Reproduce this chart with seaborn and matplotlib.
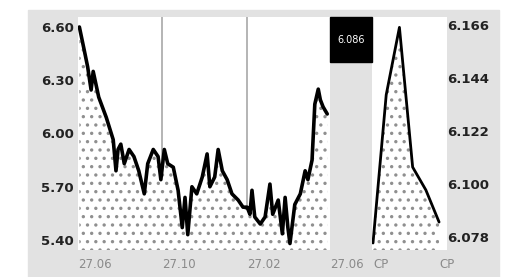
import numpy as np
import pandas as pd
import matplotlib
matplotlib.use("Agg")
import matplotlib.pyplot as plt
import seaborn as sns
from matplotlib.patches import Rectangle

# one year of prices, day offset from 27.06
DAYS = [2, 9, 14, 19, 22, 30, 41, 45, 51, 55, 58, 62, 67, 74, 81, 88, 96, 101,
        109, 116, 120, 125, 130, 138, 145, 151, 155, 159, 165, 172, 180, 187,
        191, 198, 203, 209, 216, 223, 232, 239, 245, 249, 252, 256, 264, 271,
        278, 282, 290, 296, 300, 304, 307, 314, 322, 329, 333, 339, 343, 348,
        351, 355, 361]
PRICES = [6.60, 6.47, 6.375, 6.245, 6.35, 6.205, 6.09, 6.04, 5.965, 5.79, 5.91,
          5.94, 5.83, 5.91, 5.87, 5.79, 5.66, 5.83, 5.91, 5.87, 5.74, 5.91, 5.83,
          5.81, 5.68, 5.47, 5.64, 5.43, 5.70, 5.66, 5.755, 5.885, 5.70, 5.755,
          5.91, 5.79, 5.74, 5.66, 5.625, 5.585, 5.585, 5.545, 5.68, 5.53, 5.49,
          5.53, 5.715, 5.545, 5.625, 5.435, 5.64, 5.47, 5.38, 5.60, 5.66, 5.79,
          5.74, 5.85, 6.165, 6.25, 6.19, 6.15, 6.11]
DATE_TICKS = [0, 122, 245, 365]
DATE_LABELS = ["27.06", "27.10", "27.02", "27.06"]
PRICE_TICKS = [5.40, 5.70, 6.00, 6.30, 6.60]

# intraday
STEPS = [0, 1, 2, 3, 4, 5]
INTRADAY = [6.0755, 6.137, 6.165, 6.107, 6.0975, 6.0842]
INTRA_TICKS = [6.078, 6.100, 6.122, 6.144, 6.166]
INTRA_XLABELS = ["CP", "CP"]
LAST_PRICE = "6.086"

sns.set_style("white")
plt.rcParams['font.family'] = ['DejaVu Sans']
plt.rcParams['hatch.linewidth'] = 1.2

W, H = 514, 277
fig = plt.figure(figsize=(W / 100, H / 100), dpi=100)
fig.patch.set_facecolor("white")
fig.add_artist(Rectangle((28 / W, 0), (499 - 28) / W, 1 - 10 / H,
                         transform=fig.transFigure, color="#e2e2e2", zorder=-10))


def px_axes(x0, x1, y0, y1):
    return fig.add_axes([x0 / W, 1 - y1 / H, (x1 - x0) / W, (y1 - y0) / H])


ax = px_axes(78, 330, 17, 250)
ax2 = px_axes(372, 447, 17, 250)

main = pd.DataFrame({"day": DAYS, "price": PRICES})
intra = pd.DataFrame({"step": STEPS, "price": INTRADAY})

lo1, hi1 = 5.3437, 6.6563
lo2, hi2 = 6.0726, 6.1693
dot_grey = "#8f8f8f"

for a in (ax, ax2):
    a.set_facecolor("white")
    for s in a.spines.values():
        s.set_visible(False)

# main panel
ax.fill_between(main["day"], main["price"], lo1, facecolor="white",
                edgecolor=dot_grey, hatch="..", linewidth=0, zorder=1)
for d in DATE_TICKS[1:3]:
    ax.axvline(d, color="#a8a8a8", lw=1.2, zorder=0.5)
sns.lineplot(data=main, x="day", y="price", ax=ax, color="black", lw=2.6, zorder=3)
ax.set_xlim(0, 365)
ax.set_ylim(lo1, hi1)
ax.set_yticks(PRICE_TICKS)
ax.set_yticklabels([f"{v:.2f}" for v in PRICE_TICKS], fontsize=9.5,
                   fontweight="bold", color="#222222")
ax.set_xticks(DATE_TICKS)
ax.set_xticklabels(DATE_LABELS, fontsize=8.5, color="#8a8a8a", ha="left")
ax.tick_params(length=0, pad=3)
ax.tick_params(axis="x", pad=6)
ax.set_xlabel("")
ax.set_ylabel("")

# intraday panel
ax2.fill_between(intra["step"], intra["price"], lo2, facecolor="white",
                 edgecolor=dot_grey, hatch="..", linewidth=0, zorder=1)
sns.lineplot(data=intra, x="step", y="price", ax=ax2, color="black", lw=2.0, zorder=3)
ax2.set_xlim(-0.076, 5.6)
ax2.set_ylim(lo2, hi2)
ax2.yaxis.tick_right()
ax2.set_yticks(INTRA_TICKS)
ax2.set_yticklabels([f"{v:.3f}" for v in INTRA_TICKS], fontsize=9.5,
                    fontweight="bold", color="#222222")
ax2.set_xticks([STEPS[0], STEPS[-1]])
ax2.set_xticklabels(INTRA_XLABELS, fontsize=8.5, color="#8a8a8a", ha="left")
ax2.tick_params(length=0, pad=0)
ax2.tick_params(axis="x", pad=6)
ax2.set_xlabel("")
ax2.set_ylabel("")

# last price box
fig.add_artist(Rectangle((330 / W, 1 - 62 / H), 42 / W, 45 / H,
                         transform=fig.transFigure, color="black", zorder=5))
fig.text(351 / W, 1 - 40 / H, LAST_PRICE, color="white", fontsize=7,
         ha="center", va="center", zorder=6)

fig.savefig("out.png", dpi=100)
